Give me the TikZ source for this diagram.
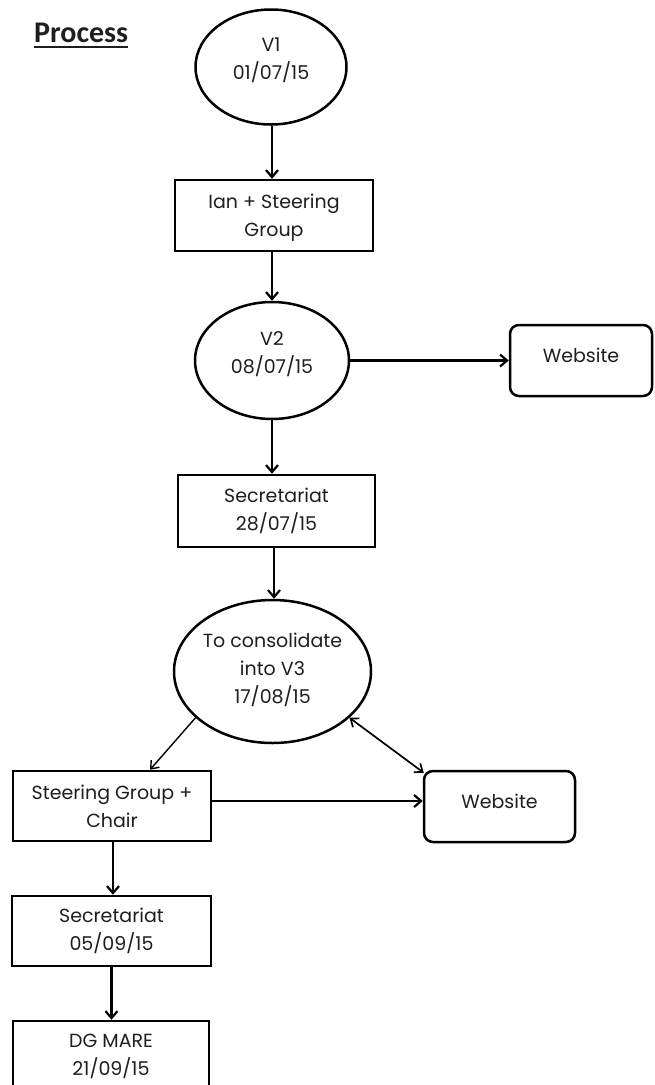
\documentclass[tikz,border=0pt]{standalone}
\usepackage{fontspec}
\setmainfont{Poppins}
\newfontfamily\titlefont{Carlito}
\usetikzlibrary{shapes.geometric,arrows.meta,calc}
\definecolor{ink}{HTML}{1E1E1E}
\begin{document}
\begin{tikzpicture}[x=1pt,y=-1pt,
  every node/.style={font=\fontsize{19}{28}\selectfont, text=ink, align=center, inner sep=0pt},
  oval/.style={ellipse, draw=black, line width=2.5pt},
  boxnode/.style={rectangle, draw=black, line width=2.5pt},
  roundbox/.style={rectangle, rounded corners=9pt, draw=black, line width=2.5pt},
  arr/.style={line width=2.2pt, -{Straight Barb[length=7pt,width=12pt]}},
  thinarr/.style={line width=1.4pt, -{Straight Barb[length=7pt,width=11pt]}},
  duoarr/.style={line width=1.7pt, {Straight Barb[length=7pt,width=11pt]}-{Straight Barb[length=7pt,width=11pt]}}
]
\path[use as bounding box] (0,0) rectangle (654,1085);
\clip (0,0) rectangle (654,1085);

% title
\node[font=\titlefont\bfseries\fontsize{30}{32}\selectfont, text=ink, anchor=base west] (title) at (34,42) {Process};
\draw[line width=1.8pt, ink] ([yshift=-5pt]title.base west) -- ([yshift=-5pt]title.base east);

% nodes
\node[oval, minimum width=151pt, minimum height=115pt] (v1) at (271,67) {};
\node (v1t) at (271,60) {V1\\01/07/15};
\node[boxnode, minimum width=198pt, minimum height=71pt] (ian) at (274,215.5) {};
\node (iant) at (274,218) {Ian + Steering\\Group};
\node[oval, minimum width=154pt, minimum height=117pt] (v2) at (272,360.5) {};
\node (v2t) at (272,354) {V2\\08/07/15};
\node[roundbox, minimum width=142pt, minimum height=71pt] (web1) at (581,360.5) {};
\node (web1t) at (581,355) {Website};
\node[boxnode, minimum width=197pt, minimum height=72pt] (sec1) at (276.5,511) {Secretariat\\28/07/15};
\node[oval, minimum width=197pt, minimum height=143pt] (v3) at (272.5,671.5) {};
\node (v3t) at (272.5,670) {To consolidate\\into V3\\17/08/15};
\node[boxnode, minimum width=198pt, minimum height=70pt] (steer) at (112,806) {Steering Group +\\Chair};
\node[roundbox, minimum width=151pt, minimum height=71pt] (web2) at (499.5,806.5) {};
\node (web2t) at (499.5,801) {Website};
\node[boxnode, minimum width=199pt, minimum height=70pt] (sec2) at (111.5,931) {Secretariat\\05/09/15};
\node[boxnode, minimum width=196pt, minimum height=70pt] (dg) at (111,1056) {DG MARE\\21/09/15};

% connector start points
\coordinate (c1) at ($(v1.south)+(1,0)$);
\coordinate (c2) at ($(ian.south)+(-2,0)$);
\coordinate (c3) at ($(sec1.south)+(-2.5,0)$);
\coordinate (c4) at ($(steer.east)+(0,-5)$);
\coordinate (c5) at ($(steer.south)+(1,0)$);
\coordinate (c6) at ($(steer.north)+(38,0)$);
\coordinate (c7) at ($(web2.north west)+(1,3)$);

% connectors
\draw[arr] (c1) -- (c1 |- ian.north);
\draw[arr] (c2) -- (c2 |- v2.north);
\draw[arr] (v2.east) -- (v2.east -| web1.west);
\draw[arr] (v2.south) -- (v2.south |- sec1.north);
\draw[arr] (c3) -- (c3 |- v3.north);
\draw[thinarr] (v3.211) -- (c6);
\draw[duoarr] (v3.-31) -- (c7);
\draw[arr] (c4) -- (c4 -| web2.west);
\draw[arr] (c5) -- (c5 |- sec2.north);
\draw[arr] (sec2.south) -- (sec2.south |- dg.north);
\end{tikzpicture}
\end{document}
